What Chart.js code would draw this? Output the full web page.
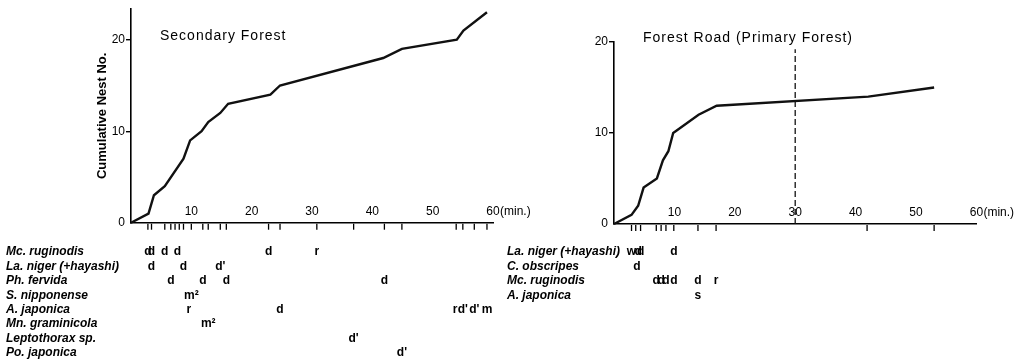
<!DOCTYPE html>
<html>
<head>
<meta charset="utf-8">
<script src="https://cdn.jsdelivr.net/npm/chart.js@4.4.1/dist/chart.umd.min.js"></script>
<style>
  html, body { margin: 0; padding: 0; background: #fff; }
  body { width: 1021px; height: 364px; position: relative; overflow: hidden; }
  .panel { position: absolute; top: 0; }
</style>
</head>
<body>
<div class="panel" style="left:0"><canvas id="secChart" width="540" height="364"></canvas></div>
<div class="panel" style="left:500px"><canvas id="roadChart" width="521" height="364"></canvas></div>
<script>
// Secondary forest: time (min.) vs cumulative nest number
const secTimes = [0, 2.9, 3.8, 5.6, 8.7, 9.8, 11.7, 12.8, 14.8, 16.1, 23.1, 24.7, 41.8, 44.9, 54.0, 55.1, 59.0];
const secNests = [0, 1, 3, 4, 7, 9, 10, 11, 12, 13, 14, 15, 18, 19, 20, 21, 23];
// times a nest was found (tick marks under the axis)
const secFound = [2.8, 3.4, 5.6, 6.6, 7.3, 8.0, 8.7, 10.0, 11.9, 12.8, 14.8, 15.8, 22.8, 24.7, 30.8, 36.9, 42.0, 44.9, 53.9, 55.0, 56.9, 59.0];
const secSpecies = ['Mc. ruginodis', 'La. niger (+hayashi)', 'Ph. fervida', 'S. nipponense', 'A. japonica', 'Mn. graminicola', 'Leptothorax sp.', 'Po. japonica'];
const secMarks = [
  [[2.8, 'd'], [3.4, 'd'], [5.6, 'd'], [7.7, 'd'], [22.8, 'd'], [30.8, 'r']],
  [[3.4, 'd'], [8.7, 'd'], [14.8, "d'"]],
  [[6.6, 'd'], [11.9, 'd'], [15.8, 'd'], [42.0, 'd']],
  [[10.0, 'm²']],
  [[9.6, 'r'], [24.7, 'd'], [53.7, 'r'], [55.0, "d'"], [56.9, "d'"], [59.0, 'm']],
  [[12.8, 'm²']],
  [[36.9, "d'"]],
  [[44.9, "d'"]]
];

// Forest road (primary forest)
const roadTimes = [0, 2.9, 4.0, 4.9, 7.1, 8.1, 9.0, 9.8, 14.0, 17.0, 42.1, 53.0];
const roadNests = [0, 1, 2, 4, 5, 7, 8, 10, 12, 13, 14, 15];
const roadFound = [2.9, 3.6, 4.4, 7.0, 7.8, 8.6, 9.9, 13.9, 16.9, 41.9, 53.0];
const roadLimit = [30, 19.2];
const roadSpecies = ['La. niger (+hayashi)', 'C. obscripes', 'Mc. ruginodis', 'A. japonica'];
const roadMarks = [
  [[2.9, 'w'], [4.0, 'd'], [4.4, 'd'], [9.9, 'd']],
  [[3.8, 'd']],
  [[7.0, 'd'], [7.8, 'd'], [8.6, 'd'], [9.9, 'd'], [13.9, 'd'], [16.9, 'r']],
  [[13.9, 's']]
];

const xTickValues = [10, 20, 30, 40, 50, 60];

const FONT = '"Liberation Sans", Arial, sans-serif';

// draws panel title, nest ticks under the axis and the species table
function notes(cfg) {
  return {
    id: 'notes',
    afterDraw(chart) {
      const ctx = chart.ctx;
      const xs = chart.scales.x, ys = chart.scales.y;
      const y0 = ys.getPixelForValue(0);
      ctx.save();
      ctx.fillStyle = '#000';
      ctx.strokeStyle = '#000';
      ctx.textBaseline = 'middle';

      ctx.font = '14px ' + FONT;
      ctx.letterSpacing = '1px';
      ctx.textAlign = 'left';
      ctx.fillText(cfg.title, cfg.titleX, cfg.titleY);
      ctx.letterSpacing = '0px';

      ctx.font = '12px ' + FONT;
      ctx.fillText('(min.)', xs.getPixelForValue(60) + 7, y0 - 11);

      ctx.lineWidth = 1.3;
      cfg.found.forEach(t => {
        const x = xs.getPixelForValue(t);
        ctx.beginPath();
        ctx.moveTo(x, y0 + 1);
        ctx.lineTo(x, y0 + 7);
        ctx.stroke();
      });

      cfg.species.forEach((name, i) => {
        const y = 252 + i * 14.4;
        ctx.font = 'italic bold 12px ' + FONT;
        ctx.textAlign = 'left';
        ctx.fillText(name, cfg.labelX, y);
        ctx.font = 'bold 12px ' + FONT;
        ctx.textAlign = 'center';
        cfg.marks[i].forEach(([t, s]) => ctx.fillText(s, xs.getPixelForValue(t), y));
      });
      ctx.restore();
    }
  };
}

function axes(yMax, yWidth, yTitle) {
  return {
    x: {
      type: 'linear', min: 0, max: 60,
      afterFit: s => { s.height = 1; },
      afterBuildTicks: s => { s.ticks = xTickValues.map(v => ({ value: v })); },
      grid: { display: false },
      border: { display: true, color: '#000', width: 1.6 },
      ticks: { mirror: true, padding: 4, color: '#000', font: { family: FONT, size: 12 } }
    },
    y: {
      min: 0, max: yMax,
      afterFit: s => { s.width = yWidth; },
      grid: {
        drawOnChartArea: false, tickLength: 5, lineWidth: 1.4,
        color: c => (c.tick && c.tick.value === 0 ? 'rgba(0,0,0,0)' : '#000')
      },
      border: { display: true, color: '#000', width: 1.6 },
      ticks: { stepSize: 10, includeBounds: false, padding: 1, color: '#000', font: { family: FONT, size: 12 } },
      title: yTitle ? {
        display: true, text: yTitle, color: '#000',
        font: { family: FONT, size: 13, weight: 'bold' }, padding: { top: 95, bottom: 0 }
      } : { display: false }
    }
  };
}

const common = {
  responsive: false,
  animation: false,
  events: [],
  plugins: { legend: { display: false }, tooltip: { enabled: false } }
};

new Chart(document.getElementById('secChart'), {
  type: 'line',
  data: {
    datasets: [{
      data: secTimes.map((t, i) => ({ x: t, y: secNests[i] })),
      borderColor: '#111', borderWidth: 2.4, pointRadius: 0, tension: 0, clip: false
    }]
  },
  options: Object.assign({}, common, {
    layout: { padding: { left: 0, right: 47, top: 9, bottom: 140.3 } },
    scales: axes(23.36, 131, 'Cumulative Nest No.')
  }),
  plugins: [notes({
    title: 'Secondary Forest', titleX: 160, titleY: 36,
    found: secFound, species: secSpecies, marks: secMarks, labelX: 6
  })]
});

new Chart(document.getElementById('roadChart'), {
  type: 'line',
  data: {
    datasets: [{
      data: roadTimes.map((t, i) => ({ x: t, y: roadNests[i] })),
      borderColor: '#111', borderWidth: 2.4, pointRadius: 0, tension: 0, clip: false
    }, {
      data: [{ x: roadLimit[0], y: 0 }, { x: roadLimit[0], y: roadLimit[1] }],
      borderColor: '#111', borderWidth: 1.3, borderDash: [6, 3], pointRadius: 0, clip: false
    }]
  },
  options: Object.assign({}, common, {
    layout: { padding: { left: 0, right: 44.6, top: 42, bottom: 139 } },
    scales: axes(20, 114, null)
  }),
  plugins: [notes({
    title: 'Forest Road (Primary Forest)', titleX: 143, titleY: 38,
    found: roadFound, species: roadSpecies, marks: roadMarks, labelX: 7
  })]
});
</script>
</body>
</html>
